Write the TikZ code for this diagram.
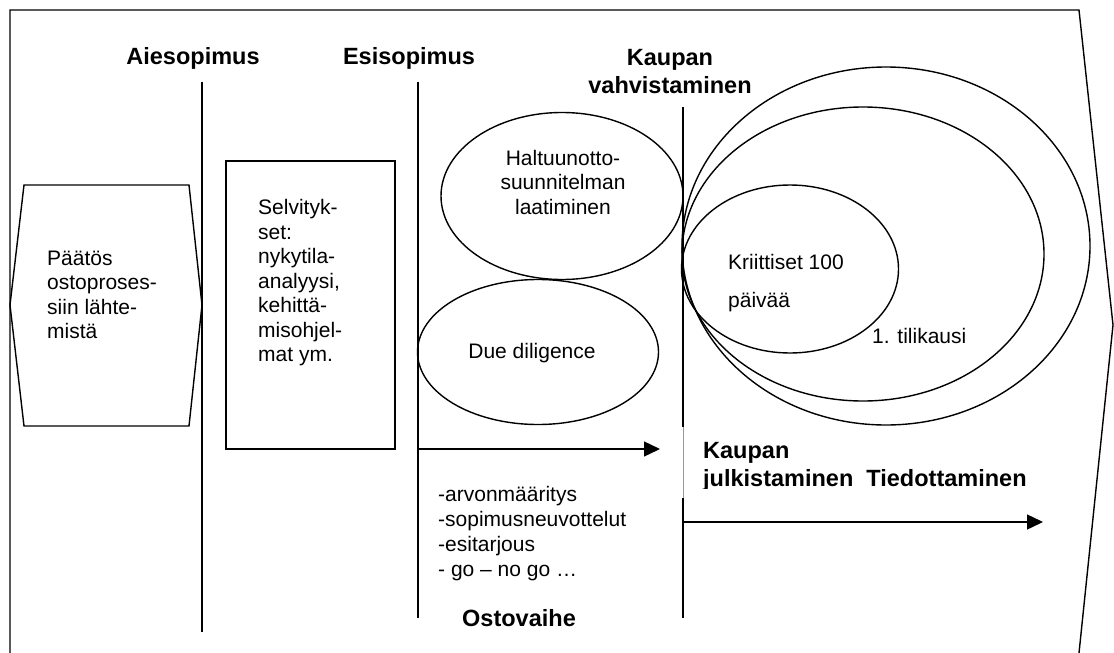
\documentclass[tikz,border=0pt]{standalone}
\usepackage{fontspec}
\setmainfont{Liberation Sans}
\usetikzlibrary{arrows.meta,shapes.geometric}
\tikzset{
  ln/.style={line width=1.4pt},
  bigb/.style={font=\fontsize{23.5}{28}\selectfont\bfseries, inner sep=0pt},
  txt/.style={font=\fontsize{21}{24.5}\selectfont, inner sep=0pt, align=left},
  oval/.style={ln, draw, ellipse, inner sep=0pt},
  arr/.style={ln, -{Triangle[length=16pt,width=15pt]}}
}
\begin{document}
\begin{tikzpicture}[x=1pt,y=-1pt]
\useasboundingbox (0,0) rectangle (1114,653);
% outer frame
\draw[ln] (10,653) -- (10,10) -- (1079,10) -- (1113,325) -- (1079,653);
% milestone lines
\coordinate (a1) at (202,82); \coordinate (a2) at (202,632);
\coordinate (e1) at (418,82); \coordinate (e2) at (418,618);
\coordinate (k1) at (683,107); \coordinate (k2) at (683,427);
\coordinate (k3) at (683,498); \coordinate (k4) at (683,618);
\draw[ln] (a1) -- (a2);
\draw[ln] (e1) -- (e2);
\draw[ln] (k1) -- (k2);
\draw[ln] (k3) -- (k4);
\draw[line width=0.4pt, black!40] (k2) -- (k3);
% headings
\node[bigb] (aies) at (193,58) {Aiesopimus};
\node[bigb] (esis) at (409,58) {Esisopimus};
\node[bigb, align=center, font=\fontsize{23.5}{28}\selectfont\bfseries] (kv) at (670,72) {Kaupan\\vahvistaminen};
% hexagon
\draw[ln] (24,185) -- (189,185) -- (202,305) -- (189,426) -- (24,426) -- (10,305) -- cycle;
\node[txt, anchor=west] (paatos) at (47,295) {Päätös\\ostoproses-\\siin lähte-\\mistä};
% rectangle
\draw[ln] (226,161) rectangle (395,449);
\node[txt, anchor=west] (selv) at (258,283) {Selvityk-\\set:\\nykytila-\\analyysi,\\kehittä-\\misohjel-\\mat ym.};
% ellipses middle
\node[oval, minimum width=242pt, minimum height=167pt] (halt) at (562,196) {};
\node[txt, align=center] (halttxt) at (563,182) {Haltuunotto-\\suunnitelman\\laatiminen};
\node[oval, minimum width=241pt, minimum height=145pt] (due) at (538,352) {};
\node[txt] (duetxt) at (532,353) {Due diligence};
% right ellipses
\node[oval, minimum width=408pt, minimum height=358pt] (outer) at (886,246) {};
\node[oval, minimum width=362pt, minimum height=294pt] (middle) at (863,254) {};
\node[oval, minimum width=217pt, minimum height=168pt] (inner) at (790,269) {};
\node[txt, font=\fontsize{21}{38}\selectfont, anchor=west] (krit) at (728,283) {Kriittiset 100\\päivää};
\node[txt, anchor=west] (tili) at (872,336) {1. tilikausi};
% arrows
\coordinate (ar1s) at (418,449); \coordinate (ar1e) at (660,449);
\draw[arr] (ar1s) -- (ar1e);
\coordinate (ar2s) at (683,522); \coordinate (ar2e) at (1043,522);
\draw[arr] (ar2s) -- (ar2e);
% lower texts
\begin{scope}
\clip (684,427) rectangle (1060,488);
\node[bigb, anchor=west, align=left, font=\fontsize{23.5}{28}\selectfont\bfseries] (kj) at (703,467) {Kaupan\\julkistaminen\ \ Tiedottaminen};
\end{scope}
\node[txt, font=\fontsize{21}{25}\selectfont, anchor=west] (list) at (438,534) {-arvonmääritys\\-sopimusneuvottelut\\-esitarjous\\- go – no go …};
\node[bigb] (osto) at (519,618) {Ostovaihe};
\end{tikzpicture}
\end{document}
